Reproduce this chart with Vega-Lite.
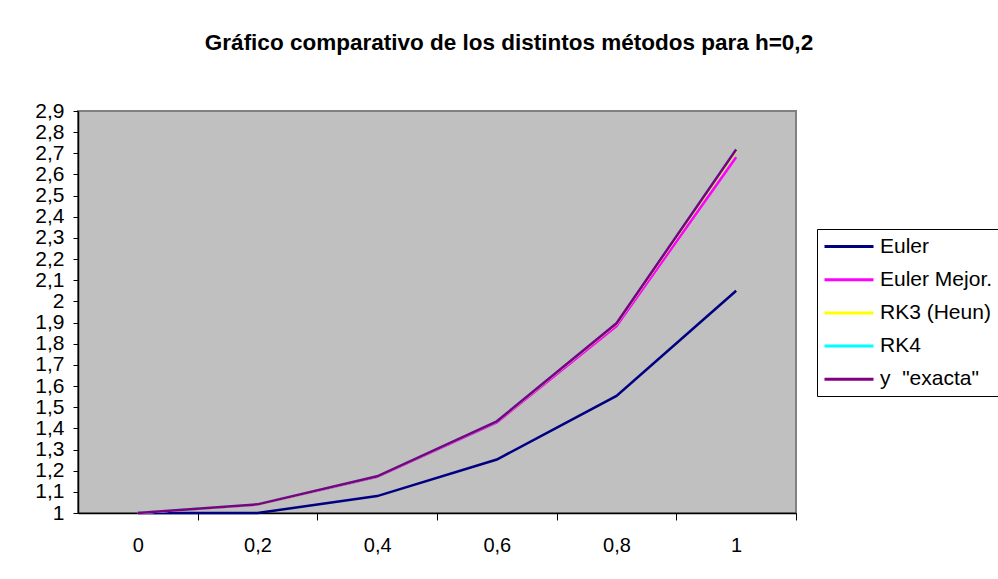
{
  "$schema": "https://vega.github.io/schema/vega-lite/v6.json",
  "autosize": {"type": "none"},
  "padding": {"left": 78, "top": 111, "right": 202, "bottom": 66},
  "width": 718,
  "height": 402,
  "background": "white",
  "config": {
    "font": "Liberation Sans",
    "view": {"fill": "#C0C0C0", "stroke": "#808080", "strokeWidth": 2}
  },
  "title": {
    "text": "Gráfico comparativo de los distintos métodos para h=0,2",
    "fontSize": 22.5,
    "fontWeight": "bold",
    "color": "black",
    "anchor": "middle",
    "dx": 72,
    "offset": 28,
    "baseline": "alphabetic"
  },
  "data": {
    "values": [
      {"x": 0, "metodo": "Euler", "y": 1},
      {"x": 0.2, "metodo": "Euler", "y": 1},
      {"x": 0.4, "metodo": "Euler", "y": 1.08},
      {"x": 0.6, "metodo": "Euler", "y": 1.2528},
      {"x": 0.8, "metodo": "Euler", "y": 1.5535},
      {"x": 1, "metodo": "Euler", "y": 2.0506},
      {"x": 0, "metodo": "Euler Mejor.", "y": 1},
      {"x": 0.2, "metodo": "Euler Mejor.", "y": 1.04},
      {"x": 0.4, "metodo": "Euler Mejor.", "y": 1.1715},
      {"x": 0.6, "metodo": "Euler Mejor.", "y": 1.4282},
      {"x": 0.8, "metodo": "Euler Mejor.", "y": 1.883},
      {"x": 1, "metodo": "Euler Mejor.", "y": 2.6814},
      {"x": 0, "metodo": "RK3 (Heun)", "y": 1},
      {"x": 0.2, "metodo": "RK3 (Heun)", "y": 1.0407},
      {"x": 0.4, "metodo": "RK3 (Heun)", "y": 1.1732},
      {"x": 0.6, "metodo": "RK3 (Heun)", "y": 1.4324},
      {"x": 0.8, "metodo": "RK3 (Heun)", "y": 1.894},
      {"x": 1, "metodo": "RK3 (Heun)", "y": 2.7115},
      {"x": 0, "metodo": "RK4", "y": 1},
      {"x": 0.2, "metodo": "RK4", "y": 1.0408},
      {"x": 0.4, "metodo": "RK4", "y": 1.1735},
      {"x": 0.6, "metodo": "RK4", "y": 1.4333},
      {"x": 0.8, "metodo": "RK4", "y": 1.8964},
      {"x": 1, "metodo": "RK4", "y": 2.7181},
      {"x": 0, "metodo": "y\u00a0\u00a0\"exacta\"", "y": 1},
      {"x": 0.2, "metodo": "y\u00a0\u00a0\"exacta\"", "y": 1.0408},
      {"x": 0.4, "metodo": "y\u00a0\u00a0\"exacta\"", "y": 1.1735},
      {"x": 0.6, "metodo": "y\u00a0\u00a0\"exacta\"", "y": 1.4333},
      {"x": 0.8, "metodo": "y\u00a0\u00a0\"exacta\"", "y": 1.8965},
      {"x": 1, "metodo": "y\u00a0\u00a0\"exacta\"", "y": 2.7183}
    ]
  },
  "mark": {"type": "line", "strokeWidth": 2.5},
  "encoding": {
    "x": {
      "field": "x",
      "type": "quantitative",
      "scale": {"domain": [-0.1, 1.1], "nice": false, "zero": false},
      "axis": {
        "title": null,
        "values": [-0.2, 0, 0.2, 0.4, 0.6, 0.8, 1],
        "tickOffset": 59.83,
        "labelOffset": -59.83,
        "labelExpr": "datum.value < -0.1 ? '' : replace(format(datum.value, '~g'), '.', ',')",
        "domainColor": "black",
        "domainWidth": 1.5,
        "tickColor": "black",
        "tickSize": 7,
        "tickWidth": 1,
        "labelFontSize": 20,
        "labelColor": "black",
        "labelPadding": 15,
        "grid": false,
        "labelFlush": false,
        "labelOverlap": false
      }
    },
    "y": {
      "field": "y",
      "type": "quantitative",
      "scale": {"domain": [1, 2.9], "nice": false, "zero": false},
      "axis": {
        "title": null,
        "values": [1, 1.1, 1.2, 1.3, 1.4, 1.5, 1.6, 1.7, 1.8, 1.9, 2, 2.1, 2.2, 2.3, 2.4, 2.5, 2.6, 2.7, 2.8, 2.9],
        "labelExpr": "replace(format(datum.value, '.1~f'), '.', ',')",
        "domainColor": "black",
        "domainWidth": 1.5,
        "tickColor": "black",
        "tickSize": 5,
        "tickWidth": 1,
        "labelFontSize": 21,
        "labelColor": "black",
        "labelPadding": 9,
        "grid": false,
        "labelFlush": false,
        "labelOverlap": false
      }
    },
    "color": {
      "field": "metodo",
      "type": "nominal",
      "sort": null,
      "scale": {
        "domain": ["Euler", "Euler Mejor.", "RK3 (Heun)", "RK4", "y\u00a0\u00a0\"exacta\""],
        "range": ["#000080", "#FF00FF", "#FFFF00", "#00FFFF", "#800080"]
      },
      "legend": {
        "orient": "none",
        "legendX": 739,
        "legendY": 118,
        "title": null,
        "symbolType": "M-1,0H3.9",
        "symbolSize": 400,
        "symbolStrokeWidth": 3,
        "labelFontSize": 21,
        "labelColor": "black",
        "labelOffset": 34,
        "labelLimit": 300,
        "strokeColor": "black",
        "fillColor": "white",
        "padding": 6,
        "rowPadding": 11.2
      }
    }
  }
}
